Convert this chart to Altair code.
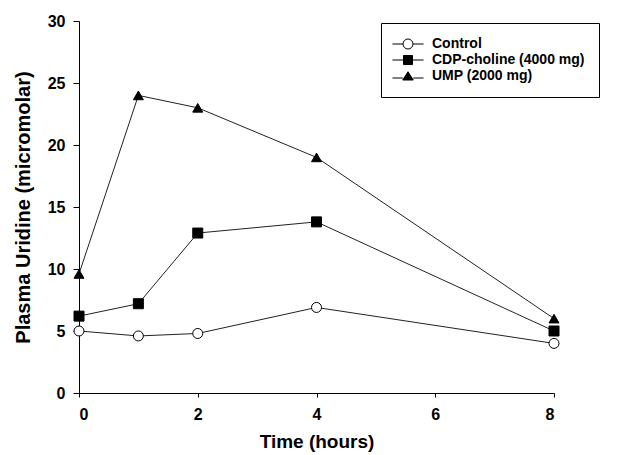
import altair as alt
import pandas as pd

times = [0, 1, 2, 4, 8]
series_names = ["Control", "CDP-choline (4000 mg)", "UMP (2000 mg)"]
control = [5.0, 4.6, 4.8, 6.9, 4.0]
cdp = [6.2, 7.2, 12.9, 13.8, 5.0]
ump = [9.6, 24.0, 23.0, 19.0, 6.0]

rows = []
for name, vals in zip(series_names, [control, cdp, ump]):
    for t, v in zip(times, vals):
        rows.append({"time": t, "value": v, "series": name})
df = pd.DataFrame(rows)

FONT = "Liberation Sans"

x = alt.X("time:Q", scale=alt.Scale(domain=[0, 8], nice=False),
          axis=alt.Axis(values=[0, 2, 4, 6, 8], title="Time (hours)"))
y = alt.Y("value:Q", scale=alt.Scale(domain=[0, 30], nice=False),
          axis=alt.Axis(values=[0, 5, 10, 15, 20, 25, 30], title="Plasma Uridine (micromolar)"))

lines = alt.Chart(df).mark_line(color="#222222", strokeWidth=1).encode(
    x=x, y=y, detail="series:N", order="time:Q")

points = alt.Chart(df).mark_point(filled=False, stroke="black", strokeWidth=1,
                                  size=100, opacity=1).encode(
    x=x, y=y,
    shape=alt.Shape("series:N", scale=alt.Scale(domain=series_names,
                    range=["circle", "square", "triangle-up"]), legend=None),
    fill=alt.Fill("series:N", scale=alt.Scale(domain=series_names,
                  range=["white", "black", "black"]), legend=None),
)

leg_paths = [
    "M-3.1,0 L-1,0 M1,0 A1,1 0 1,1 -1,0 A1,1 0 1,1 1,0 Z M1,0 L3.1,0",
    "M-3.1,0 L-0.9,0 M-0.9,-0.9 L0.9,-0.9 L0.9,0.9 L-0.9,0.9 Z M0.9,0 L3.1,0",
    "M-3.1,0.4 L-1.05,0.4 M-1.05,0.8 L0,-0.85 L1.05,0.8 Z M1.05,0.4 L3.1,0.4",
]
legend = alt.Legend(title=None, orient="none", legendX=302, legendY=2,
                    strokeColor="black", fillColor="white", padding=14,
                    symbolOpacity=1, symbolSize=100, symbolOffset=6,
                    symbolStrokeWidth=1, symbolStrokeColor="black",
                    labelFont=FONT, labelFontWeight="bold", labelFontSize=14,
                    labelColor="black", labelOffset=17, rowPadding=2)
legend_layer = alt.Chart(df).transform_filter("false").mark_point(
    filled=False, stroke="black", size=100, opacity=1).encode(
    x=x, y=y,
    shape=alt.Shape("series:N", scale=alt.Scale(domain=series_names, range=leg_paths),
                    legend=legend),
    fill=alt.Fill("series:N", scale=alt.Scale(domain=series_names,
                  range=["white", "black", "black"]), legend=legend),
    stroke=alt.Stroke("series:N", scale=alt.Scale(domain=series_names,
                      range=["black", "black", "black"]), legend=legend),
)

chart = alt.layer(lines, points, legend_layer).resolve_scale(
    shape="independent", fill="independent", stroke="independent"
).properties(width=475, height=372).configure_view(stroke=None).configure_axis(
    grid=False, domainColor="black", tickColor="black",
    labelFont=FONT, labelFontWeight="bold", labelFontSize=16, labelColor="black",
    titleFont=FONT, titleFontWeight="bold", titleColor="black",
).configure_axisX(tickSize=4, labelPadding=9, titlePadding=10, titleFontSize=19
).configure_axisY(tickSize=6, labelPadding=8, titlePadding=14, titleFontSize=20)

chart.save("out.html", embed_options={"renderer": "svg", "actions": False})
